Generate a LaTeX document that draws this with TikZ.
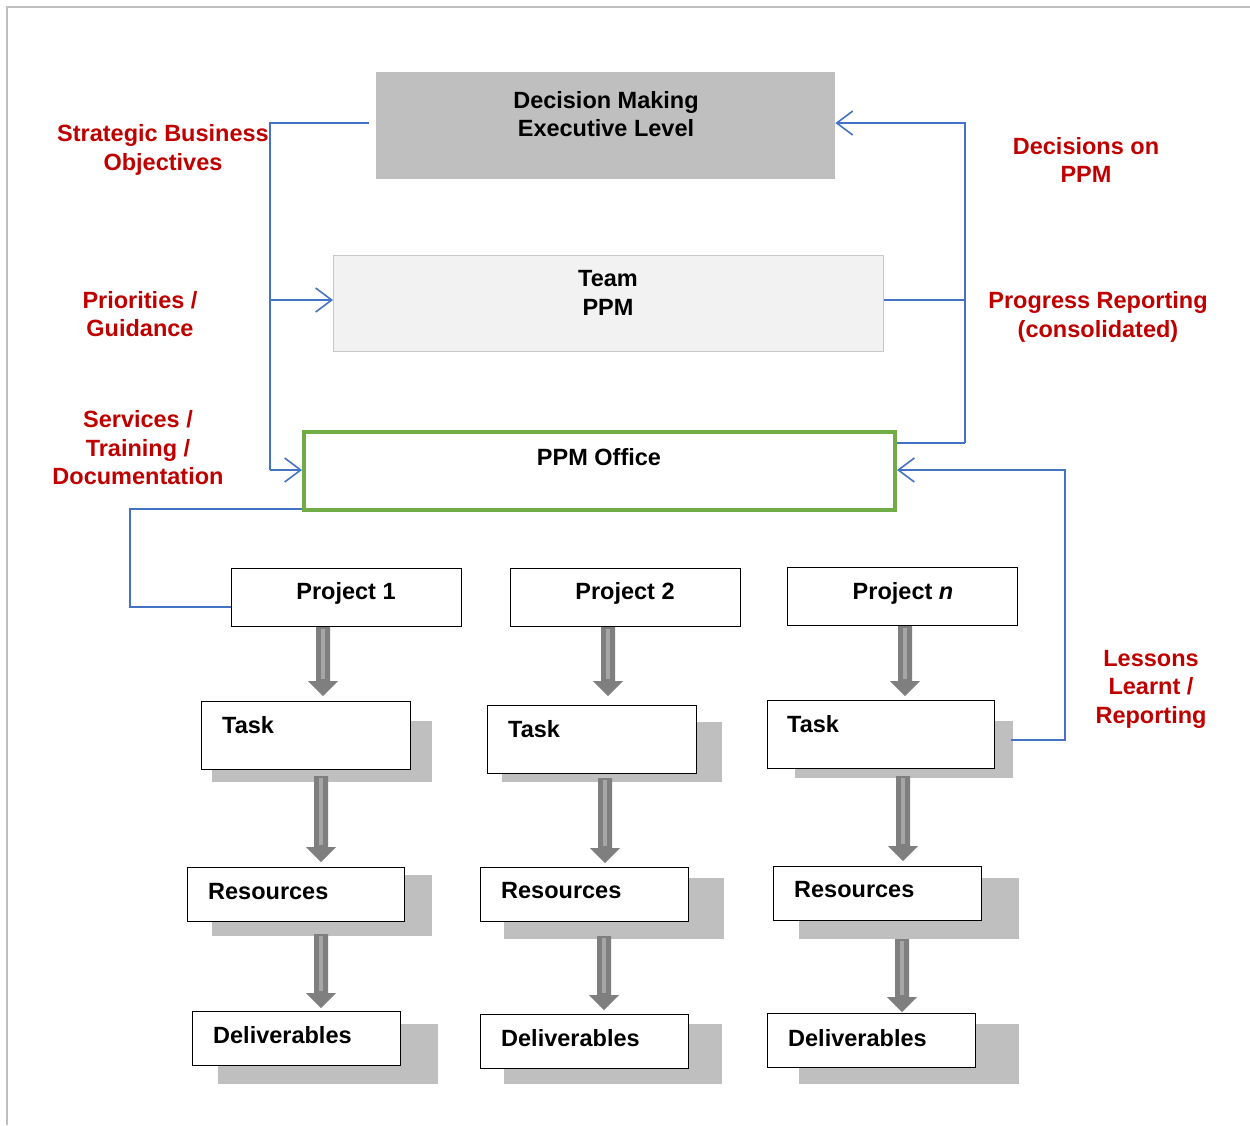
\documentclass[tikz,border=0pt]{standalone}
\usepackage{fontspec}
\setmainfont{Liberation Sans}
\usetikzlibrary{arrows.meta,calc}

\definecolor{framegray}{HTML}{BFBFBF}
\definecolor{execgray}{HTML}{BFBFBF}
\definecolor{teamfill}{HTML}{F2F2F2}
\definecolor{teamline}{HTML}{C8C8C8}
\definecolor{officegreen}{HTML}{70AD47}
\definecolor{linkblue}{HTML}{4472C4}
\definecolor{notered}{HTML}{C00000}
\definecolor{shadowgray}{HTML}{BFBFBF}
\definecolor{arrowdark}{HTML}{7F7F7F}
\definecolor{arrowlight}{HTML}{A6A6A6}

% block arrow between two named coordinates on the same vertical
\newcommand{\flowarrow}[2]{%
  \fill[arrowdark] ($(#1)+(-7,0)$) -- ($(#1)+(7,0)$) -- ($(#2)+(7,-15)$)
    -- ($(#2)+(15,-15)$) -- (#2) -- ($(#2)+(-15,-15)$) -- ($(#2)+(-7,-15)$) -- cycle;
  \fill[arrowlight] ($(#1)+(-2,2)$) rectangle ($(#2)+(2,-17)$);
}

\begin{document}
\begin{tikzpicture}[x=1pt,y=-1pt,
  txt/.style={font=\fontsize{23.5}{28.5}\selectfont\bfseries, inner sep=0pt, align=center},
  note/.style={txt, text=notered},
  card/.style={draw=black, line width=1.2pt, fill=white, anchor=north west, inner sep=0pt},
  shade/.style={fill=shadowgray},
  link/.style={draw=linkblue, line width=1.6pt},
  tip/.style={-{Straight Barb[length=16pt,width=24pt,line width=1.6pt]}}
]
\useasboundingbox (0,0) rectangle (1250,1125);
\fill[white] (0,0) rectangle (1250,1125);

% outer frame (top and left edges)
\draw[framegray, line width=2pt] (7,1125) -- (7,7) -- (1250,7);

% management levels
\node[fill=execgray, anchor=north west, minimum width=459pt, minimum height=107pt, inner sep=0pt] (exec) at (376,72) {};
\node[txt] (execT) at (606,114) {Decision Making\\Executive Level};

\node[fill=teamfill, draw=teamline, line width=1.2pt, anchor=north west, minimum width=550pt, minimum height=96pt, inner sep=0pt] (team) at (333,255) {};
\node[txt] (teamT) at (608,293) {Team\\PPM};

\node[draw=officegreen, line width=4pt, fill=white, anchor=north west, minimum width=591pt, minimum height=78pt, inner sep=0pt] (office) at (302,430) {};
\node[txt] (officeT) at (599,457) {PPM Office};

% projects
\node[card, minimum width=230pt, minimum height=58pt] (p1) at (231,568) {};
\node[card, minimum width=230pt, minimum height=58pt] (p2) at (510,568) {};
\node[card, minimum width=230pt, minimum height=58pt] (pn) at (787,567) {};
\node[txt] (p1T) at (346,593) {Project 1};
\node[txt] (p2T) at (625,593) {Project 2};
\node[txt] (pnT) at (903,593) {Project \textit{n}};

% tasks
\fill[shade] (212,721) rectangle (432,782);
\fill[shade] (502,722) rectangle (722,782);
\fill[shade] (795,721) rectangle (1013,778);
\node[card, minimum width=209pt, minimum height=68pt] (t1) at (201,701) {};
\node[card, minimum width=209pt, minimum height=68pt] (t2) at (487,705) {};
\node[card, minimum width=227pt, minimum height=68pt] (tn) at (767,700) {};
\node[txt, anchor=west] (t1T) at (222,725) {Task};
\node[txt, anchor=west] (t2T) at (508,729) {Task};
\node[txt, anchor=west] (tnT) at (787,724) {Task};

% resources
\fill[shade] (212,875) rectangle (432,936);
\fill[shade] (504,878) rectangle (724,939);
\fill[shade] (799,878) rectangle (1019,939);
\node[card, minimum width=217pt, minimum height=54pt] (r1) at (187,867) {};
\node[card, minimum width=208pt, minimum height=54pt] (r2) at (480,867) {};
\node[card, minimum width=208pt, minimum height=54pt] (rn) at (773,866) {};
\node[txt, anchor=west] (r1T) at (208,892) {Resources};
\node[txt, anchor=west] (r2T) at (501,891) {Resources};
\node[txt, anchor=west] (rnT) at (794,890) {Resources};

% deliverables
\fill[shade] (218,1024) rectangle (438,1084);
\fill[shade] (504,1024) rectangle (722,1084);
\fill[shade] (799,1024) rectangle (1019,1084);
\node[card, minimum width=208pt, minimum height=54pt] (d1) at (192,1011) {};
\node[card, minimum width=208pt, minimum height=54pt] (d2) at (480,1014) {};
\node[card, minimum width=208pt, minimum height=54pt] (dn) at (767,1013) {};
\node[txt, anchor=west] (d1T) at (213,1035) {Deliverables};
\node[txt, anchor=west] (d2T) at (501,1038) {Deliverables};
\node[txt, anchor=west] (dnT) at (788,1038) {Deliverables};

% flow arrows down each project column
\coordinate (a1s) at (323,627);  \coordinate (a1e) at (323,696);
\coordinate (a2s) at (608,627);  \coordinate (a2e) at (608,696);
\coordinate (a3s) at (905,626);  \coordinate (a3e) at (905,696);
\coordinate (b1s) at (321,776);  \coordinate (b1e) at (321,862);
\coordinate (b2s) at (605,778);  \coordinate (b2e) at (605,863);
\coordinate (b3s) at (903,776);  \coordinate (b3e) at (903,861);
\coordinate (c1s) at (321,934);  \coordinate (c1e) at (321,1008);
\coordinate (c2s) at (604,936);  \coordinate (c2e) at (604,1010);
\coordinate (c3s) at (902,939);  \coordinate (c3e) at (902,1012);
\flowarrow{a1s}{a1e}\flowarrow{a2s}{a2e}\flowarrow{a3s}{a3e}
\flowarrow{b1s}{b1e}\flowarrow{b2s}{b2e}\flowarrow{b3s}{b3e}
\flowarrow{c1s}{c1e}\flowarrow{c2s}{c2e}\flowarrow{c3s}{c3e}

% downward links on the left
\coordinate (lTop) at (369,123);
\coordinate (lA) at (270,123);
\coordinate (lB) at (270,300);
\coordinate (lC) at (270,470);
\draw[link] (lTop) -- (lA) -- (lC);
\draw[link, tip] (lB) -- (team.west |- lB);
\draw[link, tip] (lC) -- (office.west |- lC);

% upward links on the right
\coordinate (rA) at (965,123);
\coordinate (rB) at (965,300);
\coordinate (rC) at (965,443);
\draw[link, tip] (rC) -- (rA) -- (exec.east |- rA);
\draw[link] (team.east |- rB) -- (rB);
\draw[link] (office.east |- rC) -- (rC);

% lessons learnt back to the office
\coordinate (sA) at (1011,740);
\coordinate (sB) at (1065,740);
\coordinate (sC) at (1065,470);
\draw[link, tip] (sA) -- (sB) -- (sC) -- (office.east |- sC);

% office to projects
\coordinate (oA) at (130,509);
\coordinate (oB) at (130,607);
\draw[link] (office.west |- oA) -- (oA) -- (oB) -- (p1.west |- oB);

% annotations
\node[note] (n1) at (163,150) {Strategic Business\\Objectives};
\node[note] (n2) at (140,314) {Priorities /\\Guidance};
\node[note] (n3) at (138,448) {Services /\\Training /\\Documentation};
\node[note] (n4) at (1086,160) {Decisions on\\PPM};
\node[note] (n5) at (1098,317) {Progress Reporting\\(consolidated)};
\node[note] (n6) at (1151,689) {Lessons\\Learnt /\\Reporting};
\end{tikzpicture}
\end{document}
